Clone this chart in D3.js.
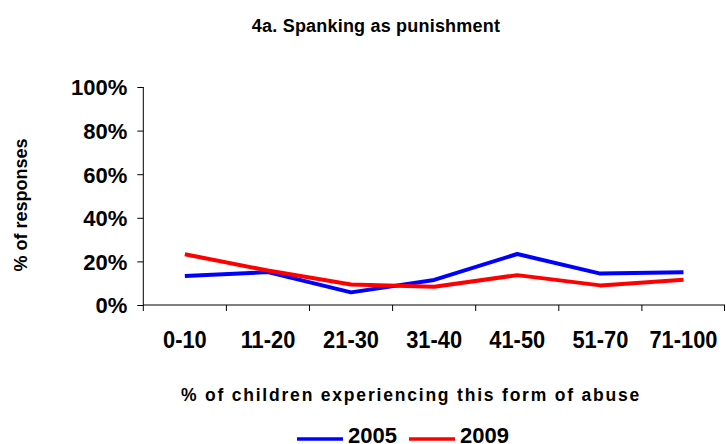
<!DOCTYPE html>
<html><head><meta charset="utf-8">
<script src="https://cdn.jsdelivr.net/npm/d3@7"></script>
<style>body{margin:0;background:#fff}svg{display:block;font-family:Arial,"Liberation Sans",sans-serif}</style>
</head><body>
<svg id="c" width="726" height="444"></svg>
<script>
const categories = ["0-10","11-20","21-30","31-40","41-50","51-70","71-100"];
const values2005 = [13.3, 15.1, 5.8, 11.5, 23.4, 14.4, 15.0];
const values2009 = [23.3, 15.8, 9.4, 8.4, 13.7, 9.0, 11.6];
const yTicks = [0, 20, 40, 60, 80, 100];
const seriesNames = ["2005","2009"];
const seriesColors = ["#0000ff","#ff0000"];

const svg = d3.select("#c");
const L = 143.3, R = 725, T = 87, B = 305;
const x = d3.scaleBand().domain(categories).range([L, R]);
const y = d3.scaleLinear().domain([0, 100]).range([B, T]);

svg.append("text").attr("x", 376).attr("y", 32).attr("text-anchor", "middle")
  .attr("font-size", 18).attr("font-weight", "bold").attr("letter-spacing", 0.2).text("4a. Spanking as punishment");

// y axis
const ya = svg.append("g").attr("transform", `translate(${L},0)`)
  .call(d3.axisLeft(y).tickValues(yTicks).tickSize(6).tickPadding(10).tickFormat(d => d + "%"));
ya.selectAll("text").attr("font-size", 22).attr("font-weight", "bold").attr("fill", "#000").attr("dy", "0.36em");
ya.select(".domain").attr("d", `M0,${T}V${B}`).attr("stroke", "#000");
ya.selectAll(".tick line").attr("stroke", "#000");

// x axis
const xa = svg.append("g").attr("transform", `translate(0,${B})`)
  .call(d3.axisBottom(x).tickSize(0).tickPadding(0));
xa.select(".domain").attr("d", `M${L},0H${R}`).attr("stroke", "#000");
xa.selectAll("text").attr("font-size", 23).attr("font-weight", "bold").attr("fill", "#000")
  .attr("y", 43).attr("dy", 0).attr("transform", "scale(0.95,1)");
const bounds = categories.map(c => x(c)).concat([R - 0.5]);
xa.selectAll(".bt").data(bounds).enter().append("line").attr("class", "bt")
  .attr("x1", d => d).attr("x2", d => d).attr("y1", 0).attr("y2", 6).attr("stroke", "#000");

// axis titles
svg.append("text").attr("transform", "translate(27,205) rotate(-90)").attr("text-anchor", "middle")
  .attr("font-size", 18).attr("font-weight", "bold").text("% of responses");
svg.append("text").attr("x", 411).attr("y", 401).attr("text-anchor", "middle")
  .attr("font-size", 17.5).attr("font-weight", "bold").attr("letter-spacing", 1.8).text("% of children experiencing this form of abuse");

// lines
const line = d3.line().x((d, i) => x(categories[i]) + x.bandwidth() / 2).y(d => y(d));
[values2005, values2009].forEach((vals, k) => {
  svg.append("path").datum(vals).attr("d", line).attr("fill", "none")
    .attr("stroke", seriesColors[k]).attr("stroke-width", 4).attr("stroke-linejoin", "round");
});

// legend
const legX = [297, 409];
seriesNames.forEach((n, k) => {
  svg.append("line").attr("x1", legX[k]).attr("x2", legX[k] + 46).attr("y1", 439).attr("y2", 439)
    .attr("stroke", seriesColors[k]).attr("stroke-width", 3.5);
  svg.append("text").attr("x", legX[k] + 51).attr("y", 443).attr("font-size", 22).attr("font-weight", "bold").text(n);
});
</script>
</body></html>
